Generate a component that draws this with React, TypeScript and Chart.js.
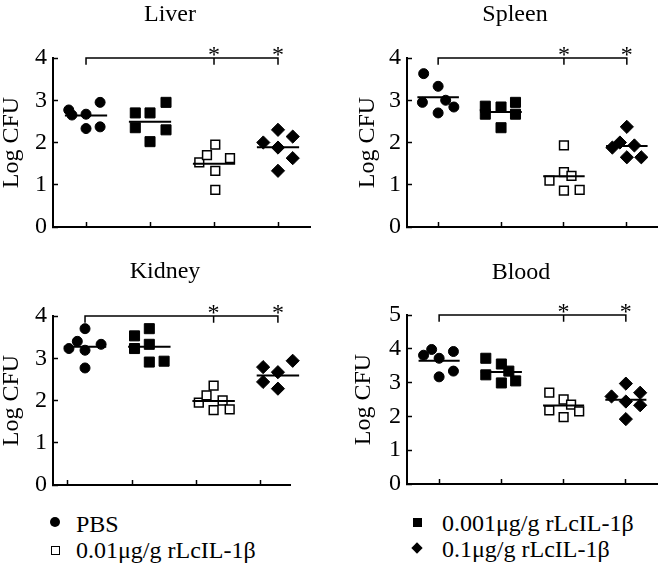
import React, { useEffect, useRef } from "react";
import { Chart, registerables } from "chart.js";

Chart.register(...registerables);

const FONT = "'Liberation Serif', 'Times New Roman', Times, serif";

// ---------- labels ----------
const groupLabels = ["PBS", "0.001μg/g rLcIL-1β", "0.01μg/g rLcIL-1β", "0.1μg/g rLcIL-1β"];
const categoryPositions = [1, 2, 3, 4];
const panelTitles = ["Liver", "Spleen", "Kidney", "Blood"];
const yAxisTitle = "Log CFU";
const yTicksFour = [0, 1, 2, 3, 4];
const yTicksFive = [0, 1, 2, 3, 4, 5];
const significanceMark = "*";
const starredCategories = [3, 4];
const bracketFrom = 1;
const bracketTo = 4;
const bracketMidTicks = [3];

// ---------- Liver ----------
const liverPBS = [2.77, 2.65, 2.67, 2.33, 2.95, 2.37];
const liverPBSJitter = [-0.27, -0.22, 0, 0, 0.22, 0.22];
const liverLow = [2.7, 2.35, 2.7, 2.02, 2.95, 2.3];
const liverLowJitter = [-0.23, -0.23, 0, 0, 0.25, 0.25];
const liverMid = [1.53, 1.7, 1.95, 1.33, 0.88, 1.63];
const liverMidJitter = [-0.23, -0.11, 0.02, 0.02, 0.02, 0.25];
const liverHigh = [2.0, 2.3, 1.88, 2.14, 1.63, 1.33];
const liverHighJitter = [-0.23, 0, 0, 0.23, 0.23, 0];
const liverMeans = [2.64, 2.49, 1.5, 1.89];

// ---------- Spleen ----------
const spleenPBS = [3.63, 3.33, 2.95, 3.0, 2.84, 2.7];
const spleenPBSJitter = [-0.23, 0, -0.25, 0.12, 0.25, 0];
const spleenLow = [2.86, 2.67, 2.84, 2.35, 2.95, 2.67];
const spleenLowJitter = [-0.25, -0.25, 0, 0, 0.23, 0.23];
const spleenMid = [1.93, 1.3, 1.21, 1.1, 0.86, 0.88];
const spleenMidJitter = [0, 0, 0.12, -0.23, 0, 0.25];
const spleenHigh = [2.37, 1.88, 2.0, 1.93, 1.65, 1.65];
const spleenHighJitter = [0, -0.23, -0.11, 0.12, 0, 0.23];
const spleenMeans = [3.07, 2.72, 1.2, 1.92];

// ---------- Kidney ----------
const kidneyPBS = [3.7, 3.4, 3.23, 3.19, 3.33, 2.77];
const kidneyPBSJitter = [0, -0.12, -0.25, 0, 0.25, 0];
const kidneyLow = [3.53, 3.7, 3.23, 3.33, 2.91, 2.93];
const kidneyLowJitter = [-0.23, 0, -0.23, 0, 0, 0.23];
const kidneyMid = [1.95, 2.12, 2.35, 1.77, 2.0, 1.79];
const kidneyMidJitter = [-0.23, -0.11, 0, 0, 0.14, 0.25];
const kidneyHigh = [2.79, 2.44, 2.67, 2.28, 2.94, 2.34];
const kidneyHighJitter = [-0.23, -0.23, 0, 0, 0.23, 0.23];
const kidneyMeans = [3.27, 3.27, 1.99, 2.59];

// ---------- Blood ----------
const bloodPBS = [3.81, 3.98, 3.72, 3.92, 3.34, 3.17];
const bloodPBSJitter = [-0.25, -0.12, 0, 0.23, 0.23, 0];
const bloodLow = [3.72, 3.23, 3.55, 3.34, 2.99, 3.05];
const bloodLowJitter = [-0.25, -0.25, 0, 0.12, 0, 0.23];
const bloodMid = [2.7, 2.18, 2.5, 1.98, 2.35, 2.15];
const bloodMidJitter = [-0.23, -0.23, 0, 0, 0.12, 0.25];
const bloodHigh = [2.59, 2.97, 2.44, 1.92, 2.7, 2.33];
const bloodHighJitter = [-0.23, 0, 0, 0, 0.23, 0.23];
const bloodMeans = [3.65, 3.31, 2.32, 2.49];

// ---------- styles ----------
const groupStyles = [
  { pointStyle: "circle", radius: 5, fill: "#000", border: "#000", bw: 1 },
  { pointStyle: "rect", radius: 7.1, fill: "#000", border: "#000", bw: 1 },
  { pointStyle: "rect", radius: 6.2, fill: "#fff", border: "#000", bw: 1.5 },
  { pointStyle: "rectRot", radius: 6.6, fill: "#000", border: "#000", bw: 1 },
];
const meanHalfWidth = 0.33;

const panels = [
  {
    title: panelTitles[0],
    values: [liverPBS, liverLow, liverMid, liverHigh],
    jitter: [liverPBSJitter, liverLowJitter, liverMidJitter, liverHighJitter],
    means: liverMeans,
    yTicks: yTicksFour,
    bracketDrop: 0.16,
    box: { left: 0, top: 0, width: 333, height: 250 },
    layout: { yW: 53, top: 58, right: 23, xH: 20 },
    xData: [0.484, 4.5],
    xTick: [0.484, 4.5],
    titlePos: [170, 21],
    yTitlePad: 0,
  },
  {
    title: panelTitles[1],
    values: [spleenPBS, spleenLow, spleenMid, spleenHigh],
    jitter: [spleenPBSJitter, spleenLowJitter, spleenMidJitter, spleenHighJitter],
    means: spleenMeans,
    yTicks: yTicksFour,
    bracketDrop: 0.16,
    box: { left: 333, top: 0, width: 333, height: 250 },
    layout: { yW: 74, top: 58, right: 1, xH: 20 },
    xData: [0.505, 4.494],
    xTick: [0.505, 4.494],
    titlePos: [182, 21],
    yTitlePad: 23,
  },
  {
    title: panelTitles[2],
    values: [kidneyPBS, kidneyLow, kidneyMid, kidneyHigh],
    jitter: [kidneyPBSJitter, kidneyLowJitter, kidneyMidJitter, kidneyHighJitter],
    means: kidneyMeans,
    yTicks: yTicksFour,
    bracketDrop: 0.16,
    box: { left: 0, top: 250, width: 333, height: 258 },
    layout: { yW: 53, top: 66, right: 43, xH: 20 },
    xData: [0.502, 4.188],
    xTick: [0.767, 4.453],
    titlePos: [165, 28],
    yTitlePad: 0,
  },
  {
    title: panelTitles[3],
    values: [bloodPBS, bloodLow, bloodMid, bloodHigh],
    jitter: [bloodPBSJitter, bloodLowJitter, bloodMidJitter, bloodHighJitter],
    means: bloodMeans,
    yTicks: yTicksFive,
    bracketDrop: 0.2,
    box: { left: 333, top: 250, width: 333, height: 257 },
    layout: { yW: 74, top: 65, right: 1, xH: 20 },
    xData: [0.484, 4.515],
    xTick: [0.484, 4.515],
    titlePos: [188, 29],
    yTitlePad: 19,
  },
];

const panelTextPlugin = {
  id: "panelText",
  afterDraw(chart: any, _args: any, opts: any) {
    const ctx = chart.ctx;
    ctx.save();
    ctx.fillStyle = "#000";
    ctx.font = `24px ${FONT}`;
    ctx.textAlign = "center";
    ctx.textBaseline = "alphabetic";
    ctx.fillText(opts.title, opts.titleX, opts.titleY);
    const xs = chart.scales.x;
    const ys = chart.scales.y;
    opts.stars.forEach((c: number) => {
      ctx.fillText(opts.mark, xs.getPixelForValue(c), ys.getPixelForValue(opts.starY) + opts.starShift);
    });
    ctx.restore();
  },
};

function buildConfig(p: any): any {
  const pointSets = p.values.map((vals: number[], g: number) => ({
    label: groupLabels[g],
    data: vals.map((v, i) => ({ x: categoryPositions[g] + p.jitter[g][i], y: v })),
    showLine: false,
    pointStyle: groupStyles[g].pointStyle,
    pointRadius: groupStyles[g].radius,
    backgroundColor: groupStyles[g].fill,
    borderColor: groupStyles[g].border,
    borderWidth: groupStyles[g].bw,
    clip: false,
  }));
  const meanData: any[] = [];
  p.means.forEach((m: number, g: number) => {
    const c = categoryPositions[g];
    meanData.push({ x: c - meanHalfWidth, y: m }, { x: c + meanHalfWidth, y: m }, { x: c + meanHalfWidth, y: null });
  });
  const top = p.yTicks[p.yTicks.length - 1];
  const low = top - p.bracketDrop;
  const bracketData: any[] = [
    { x: bracketFrom, y: low },
    { x: bracketFrom, y: top },
    { x: bracketTo, y: top },
    { x: bracketTo, y: low },
    { x: bracketTo, y: null },
  ];
  bracketMidTicks.forEach((c) => {
    bracketData.push({ x: c, y: top }, { x: c, y: low }, { x: c, y: null });
  });
  const lineBase = {
    showLine: true,
    pointRadius: 0,
    borderColor: "#000",
    backgroundColor: "rgba(0,0,0,0)",
    fill: false,
    spanGaps: false,
    clip: false,
  };
  const tickGrid = {
    display: true,
    drawOnChartArea: false,
    drawTicks: true,
    tickLength: -5,
    tickWidth: 1.5,
    tickColor: "#000",
  };
  const axisBorder = { display: true, color: "#000", width: 2 };
  return {
    type: "scatter",
    data: {
      datasets: [
        { ...lineBase, label: "mean", data: meanData, borderWidth: 2 },
        { ...lineBase, label: "bracket", data: bracketData, borderWidth: 1.5 },
        ...pointSets,
      ],
    },
    plugins: [panelTextPlugin],
    options: {
      responsive: false,
      animation: false,
      events: [],
      layout: { padding: { left: 0, top: p.layout.top, right: p.layout.right, bottom: 0 } },
      plugins: {
        legend: { display: false },
        tooltip: { enabled: false },
        title: { display: false },
        panelText: {
          title: p.title,
          titleX: p.titlePos[0],
          titleY: p.titlePos[1],
          stars: starredCategories,
          starY: top,
          starShift: 4,
          mark: significanceMark,
        },
      },
      scales: {
        x: { type: "linear", display: false, min: p.xData[0], max: p.xData[1] },
        xt: {
          type: "linear",
          position: "bottom",
          min: p.xTick[0],
          max: p.xTick[1],
          afterBuildTicks: (s: any) => {
            s.ticks = categoryPositions.map((v) => ({ value: v }));
          },
          ticks: { display: false },
          grid: tickGrid,
          border: axisBorder,
          afterFit: (s: any) => {
            s.height = p.layout.xH;
          },
        },
        y: {
          type: "linear",
          position: "left",
          min: 0,
          max: top,
          afterBuildTicks: (s: any) => {
            s.ticks = p.yTicks.map((v: number) => ({ value: v }));
          },
          ticks: { color: "#000", font: { family: FONT, size: 24, lineHeight: 1 }, padding: 11 },
          grid: tickGrid,
          border: axisBorder,
          title: {
            display: true,
            text: yAxisTitle,
            color: "#000",
            font: { family: FONT, size: 24, lineHeight: 1 },
            padding: { top: p.yTitlePad, bottom: 0 },
          },
          afterFit: (s: any) => {
            s.width = p.layout.yW;
          },
        },
      },
    },
  };
}

function Panel({ cfg }: { cfg: any }) {
  const ref = useRef<HTMLCanvasElement>(null);
  useEffect(() => {
    const chart = new Chart(ref.current as HTMLCanvasElement, buildConfig(cfg));
    return () => chart.destroy();
  }, [cfg]);
  return (
    <canvas
      ref={ref}
      width={cfg.box.width}
      height={cfg.box.height}
      style={{
        position: "absolute",
        left: cfg.box.left,
        top: cfg.box.top,
        width: cfg.box.width,
        height: cfg.box.height,
      }}
    />
  );
}

const legendItems = [
  { label: groupLabels[0], marker: "circle", mx: 55, my: 522, tx: 76, ty: 524 },
  { label: groupLabels[2], marker: "open", mx: 55, my: 550, tx: 76, ty: 550 },
  { label: groupLabels[1], marker: "square", mx: 417, my: 522, tx: 442, ty: 523 },
  { label: groupLabels[3], marker: "diamond", mx: 417, my: 548, tx: 442, ty: 549 },
];

function Marker({ kind, x, y }: { kind: string; x: number; y: number }) {
  let style: any = { position: "absolute", boxSizing: "border-box" };
  if (kind === "circle") {
    style = { ...style, left: x - 5, top: y - 5, width: 10, height: 10, borderRadius: "50%", background: "#000" };
  } else if (kind === "open") {
    style = { ...style, left: x - 4.5, top: y - 4.5, width: 9, height: 9, border: "1.3px solid #000", background: "#fff" };
  } else if (kind === "square") {
    style = { ...style, left: x - 4.5, top: y - 4.5, width: 9, height: 9, background: "#000" };
  } else {
    style = { ...style, left: x - 4, top: y - 4, width: 8, height: 8, background: "#000", transform: "rotate(45deg)" };
  }
  return <div style={style} />;
}

export default function App() {
  return (
    <div
      style={{
        position: "absolute",
        left: 0,
        top: 0,
        width: 666,
        height: 568,
        background: "#fff",
        fontFamily: FONT,
        color: "#000",
        overflow: "hidden",
      }}
    >
      {panels.map((p) => (
        <Panel key={p.title} cfg={p} />
      ))}
      {legendItems.map((it) => (
        <React.Fragment key={it.label}>
          <Marker kind={it.marker} x={it.mx} y={it.my} />
          <div
            style={{
              position: "absolute",
              left: it.tx,
              top: it.ty - 12,
              fontSize: 24,
              lineHeight: "24px",
              whiteSpace: "nowrap",
            }}
          >
            {it.label}
          </div>
        </React.Fragment>
      ))}
    </div>
  );
}
